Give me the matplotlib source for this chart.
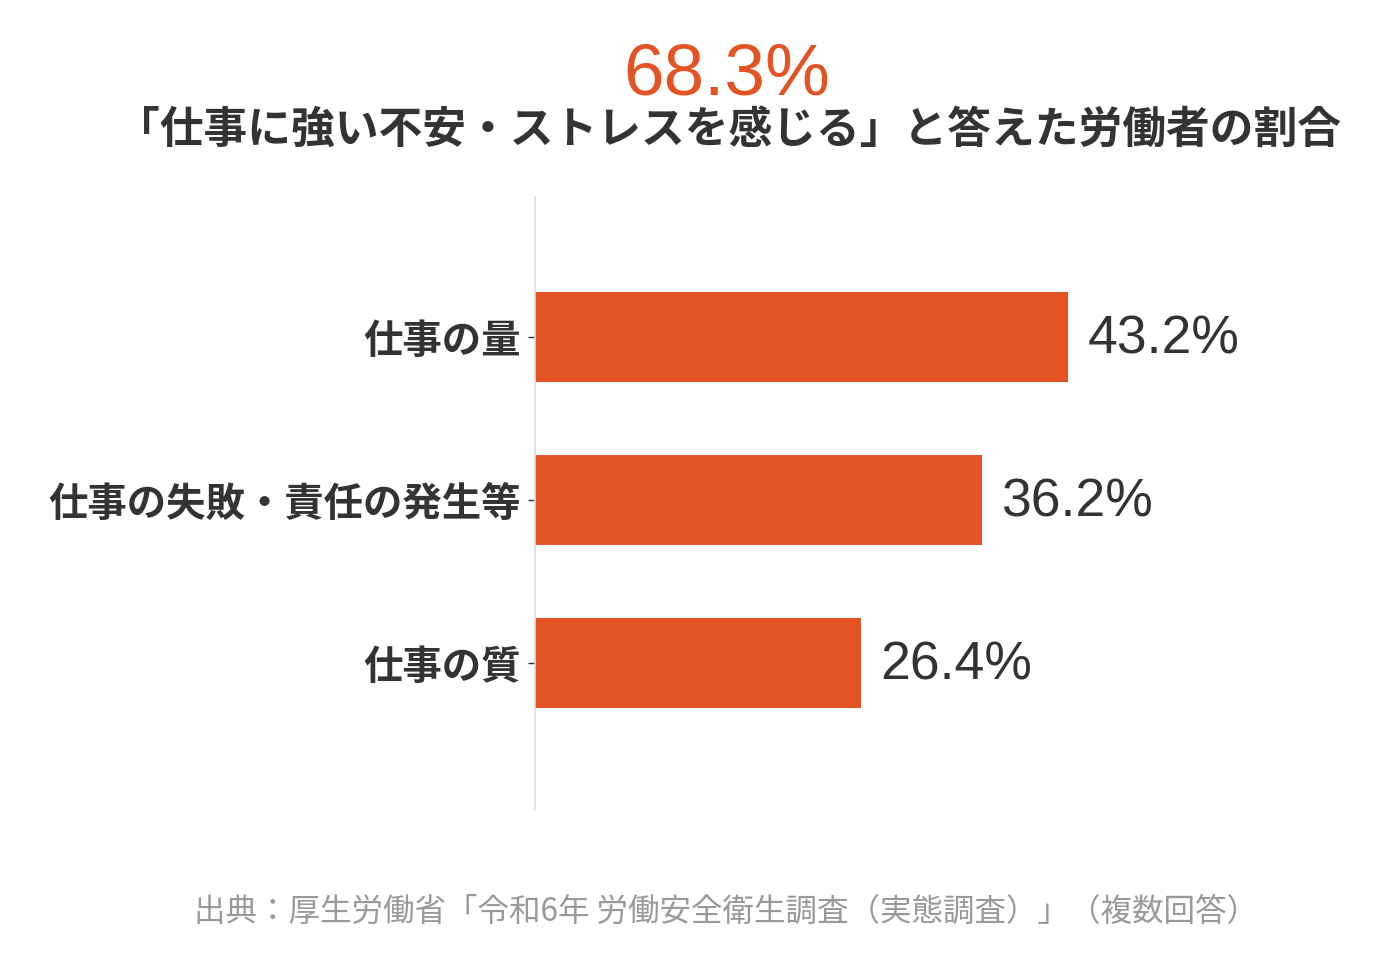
import matplotlib
matplotlib.use("Agg")
from matplotlib import pyplot as plt

plt.rcParams['font.family'] = ['Noto Sans CJK JP', 'DejaVu Sans']

categories = ['仕事の量', '仕事の失敗・責任の発生等', '仕事の質']
values = [43.2, 36.2, 26.4]
headline = '68.3%'
subtitle = '「仕事に強い不安・ストレスを感じる」と答えた労働者の割合'
source = '出典：厚生労働省「令和6年 労働安全衛生調査（実態調査）」（複数回答）'

orange = '#e35323'
dark = '#333333'

fig = plt.figure(figsize=(13.84, 9.75), dpi=100)
ax = fig.add_axes([535 / 1384, 1 - 810 / 975, 802 / 1384, 613 / 975])

pos = list(range(len(categories)))
ax.barh(pos, values, height=0.55, color=orange)
ax.set_xlim(0, 65)
ax.set_ylim(2.9, -0.86)

for p, v in zip(pos, values):
    ax.text(v + 1.6, p + 0.015, f'{v:.1f}%', va='center', ha='left',
            fontsize=38.5, color=dark, family=['Liberation Sans', 'DejaVu Sans'])

ax.set_yticks(pos)
ax.set_yticklabels(categories, fontsize=28.4, fontweight='bold', color=dark)
ax.tick_params(axis='y', length=5, width=1, color=dark, pad=5)
ax.set_xticks([])
for s in ['top', 'right', 'bottom']:
    ax.spines[s].set_visible(False)
ax.spines['left'].set_color('#dddddd')
ax.spines['left'].set_linewidth(1.2)

fig.text(727 / 1384, 1 - 76 / 975, headline, ha='center', va='center',
         fontsize=52.5, color=orange, family=['Liberation Sans', 'DejaVu Sans'])
fig.text(728 / 1384, 1 - 130 / 975, subtitle, ha='center', va='center',
         fontsize=31.5, fontweight='bold', color=dark)
fig.text(726 / 1384, 1 - 912 / 975, source, ha='center', va='center',
         fontsize=22.7, color='#999999')

plt.savefig('out.png', dpi=100)
